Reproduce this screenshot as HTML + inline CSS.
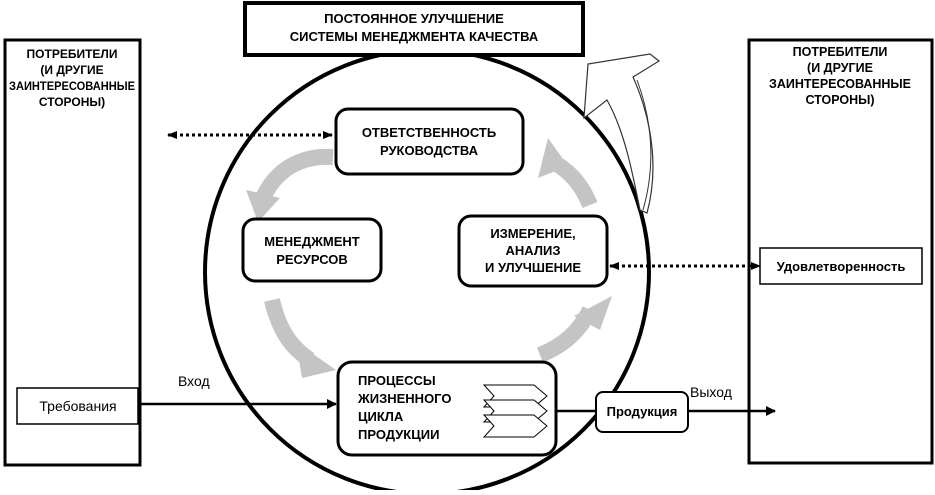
<!DOCTYPE html>
<html><head><meta charset="utf-8"><style>
body{margin:0;background:#fff}
svg text{font-family:"Liberation Sans",sans-serif}
</style></head><body>
<svg width="935" height="490" viewBox="0 0 935 490" xmlns="http://www.w3.org/2000/svg">
<defs>
<marker id="ah" markerWidth="10" markerHeight="10" refX="9" refY="5" orient="auto" markerUnits="userSpaceOnUse"><path d="M0,0 L10,5 L0,10z" fill="#000"/></marker>
<marker id="ahs" markerWidth="10" markerHeight="10" refX="9" refY="5" orient="auto-start-reverse" markerUnits="userSpaceOnUse"><path d="M0,1 L10,5 L0,9z" fill="#000"/></marker>
</defs>
<circle cx="427" cy="272" r="222" fill="none" stroke="#000" stroke-width="4"/>
<rect x="245" y="3" width="338" height="52" fill="#fff" stroke="#000" stroke-width="4"/>
<text x="414" y="23" font-size="13" font-weight="bold" text-anchor="middle">ПОСТОЯННОЕ УЛУЧШЕНИЕ</text>
<text x="414" y="41" font-size="13" font-weight="bold" text-anchor="middle">СИСТЕМЫ МЕНЕДЖМЕНТА КАЧЕСТВА</text>
<!-- outline arrow -->
<path d="M640,210 C632,170 624,130 607,100 L584,118 L588,64 L650,54 L659,61 L633,77 C650,115 660,165 647,213 Z" fill="#fff" stroke="#333" stroke-width="1.2"/>
<path d="M637,80 C652,120 656,165 643,210" fill="none" stroke="#333" stroke-width="1"/>
<rect x="5" y="40" width="135" height="425" fill="#fff" stroke="#000" stroke-width="3"/>
<rect x="749" y="40" width="183" height="423" fill="#fff" stroke="#000" stroke-width="3"/>
<g font-size="12.5" font-weight="bold" text-anchor="middle">
<text x="72" y="58" font-size="12">ПОТРЕБИТЕЛИ</text><text x="72" y="74" font-size="12">(И ДРУГИЕ</text><text x="72" y="90" font-size="12" textLength="126" lengthAdjust="spacingAndGlyphs">ЗАИНТЕРЕСОВАННЫЕ</text><text x="72" y="106" font-size="12">СТОРОНЫ)</text>
<text x="840" y="56">ПОТРЕБИТЕЛИ</text><text x="840" y="72">(И ДРУГИЕ</text><text x="840" y="88">ЗАИНТЕРЕСОВАННЫЕ</text><text x="840" y="104">СТОРОНЫ)</text>
</g>
<g fill="none" stroke="#c4c4c4" stroke-width="16">
<path d="M333,157 C300,155 275,170 262,200"/>
<path d="M272,300 C280,335 295,350 310,360"/>
<path d="M540,355 C565,345 580,330 590,310"/>
<path d="M590,205 C580,180 565,168 550,160"/>
</g>
<g fill="#c4c4c4">
<path d="M246,190 L280,198 L258,222 Z"/>
<path d="M296,342 L336,370 L302,378 Z"/>
<path d="M574,316 L612,296 L600,330 Z"/>
<path d="M538,178 L548,138 L568,166 Z"/>
</g>
<rect x="336" y="109" width="187" height="65" rx="12" fill="#fff" stroke="#000" stroke-width="3"/>
<text x="429" y="137" font-size="13" font-weight="bold" text-anchor="middle">ОТВЕТСТВЕННОСТЬ</text>
<text x="429" y="155" font-size="13" font-weight="bold" text-anchor="middle">РУКОВОДСТВА</text>
<rect x="243" y="219" width="138" height="62" rx="12" fill="#fff" stroke="#000" stroke-width="3"/>
<text x="312" y="246" font-size="13" font-weight="bold" text-anchor="middle">МЕНЕДЖМЕНТ</text>
<text x="312" y="264" font-size="13" font-weight="bold" text-anchor="middle">РЕСУРСОВ</text>
<rect x="459" y="216" width="148" height="70" rx="12" fill="#fff" stroke="#000" stroke-width="3"/>
<text x="533" y="238" font-size="13" font-weight="bold" text-anchor="middle">ИЗМЕРЕНИЕ,</text>
<text x="533" y="255" font-size="13" font-weight="bold" text-anchor="middle">АНАЛИЗ</text>
<text x="533" y="272" font-size="13" font-weight="bold" text-anchor="middle">И УЛУЧШЕНИЕ</text>
<rect x="338" y="362" width="218" height="93" rx="14" fill="#fff" stroke="#000" stroke-width="3"/>
<g font-size="13" font-weight="bold"><text x="358" y="385">ПРОЦЕССЫ</text><text x="358" y="403">ЖИЗНЕННОГО</text><text x="358" y="421">ЦИКЛА</text><text x="358" y="439">ПРОДУКЦИИ</text></g>
<g fill="#fff" stroke="#000" stroke-width="1">
<path d="M484,385 L534,385 L547,396 L534,407 L484,407 L494,396 Z"/>
<path d="M484,400 L534,400 L547,411 L534,422 L484,422 L494,411 Z"/>
<path d="M484,415 L534,415 L547,426 L534,437 L484,437 L494,426 Z"/>
</g>
<line x1="168" y1="135" x2="332" y2="135" stroke="#000" stroke-width="3" stroke-dasharray="3,3" marker-start="url(#ahs)" marker-end="url(#ahs)"/>
<line x1="610" y1="266" x2="760" y2="266" stroke="#000" stroke-width="3" stroke-dasharray="3,3" marker-start="url(#ahs)" marker-end="url(#ahs)"/>
<rect x="760" y="248" width="162" height="36" fill="#fff" stroke="#000" stroke-width="1.5"/>
<text x="841" y="271" font-size="13" font-weight="bold" text-anchor="middle">Удовлетворенность</text>
<rect x="17" y="388" width="121" height="36" fill="#fff" stroke="#000" stroke-width="1.5"/>
<text x="78" y="411" font-size="14" text-anchor="middle">Требования</text>
<line x1="138" y1="404" x2="336" y2="404" stroke="#000" stroke-width="2.5" marker-end="url(#ah)"/>
<text x="178" y="386" font-size="14">Вход</text>
<line x1="556" y1="411" x2="775" y2="411" stroke="#000" stroke-width="2.5" marker-end="url(#ah)"/>
<rect x="596" y="392" width="92" height="40" rx="7" fill="#fff" stroke="#000" stroke-width="2"/>
<text x="642" y="416" font-size="13" font-weight="bold" text-anchor="middle">Продукция</text>
<text x="690" y="397" font-size="14">Выход</text>
</svg>
</body></html>
